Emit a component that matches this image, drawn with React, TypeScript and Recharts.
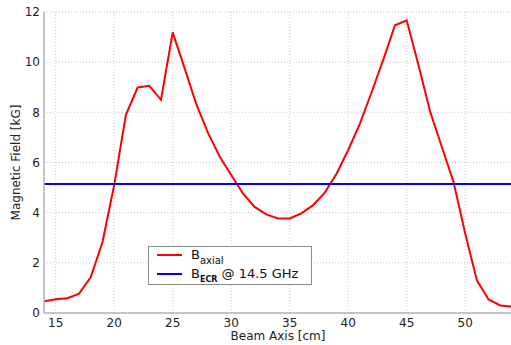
import React from 'react';
import { LineChart, Line, XAxis, YAxis, CartesianGrid, ReferenceLine } from 'recharts';

const POSITIONS = [14, 15, 16, 17, 18, 19, 20, 21, 22, 23, 24, 25, 26, 27, 28, 29, 30, 31, 32, 33, 34, 35, 36, 37, 38, 39, 40, 41, 42, 43, 44, 45, 46, 47, 48, 49, 50, 51, 52, 53, 54];
const B_AXIAL = [0.47, 0.55, 0.59, 0.77, 1.43, 2.83, 5.1, 7.9, 8.99, 9.06, 8.5, 11.19, 9.78, 8.35, 7.2, 6.25, 5.5, 4.77, 4.23, 3.93, 3.77, 3.77, 3.97, 4.3, 4.8, 5.55, 6.5, 7.55, 8.8, 10.1, 11.47, 11.67, 9.9, 8.03, 6.63, 5.23, 3.17, 1.3, 0.54, 0.3, 0.26];
const B_ECR = 5.14;
const X_TICKS = [15, 20, 25, 30, 35, 40, 45, 50];
const Y_TICKS = [0, 2, 4, 6, 8, 10, 12];

const data = POSITIONS.map((x, i) => ({ x, b: B_AXIAL[i] }));

const FONT = 'DejaVu Sans';
const tickStyle = { fill: '#222', fontSize: 12, fontFamily: FONT };
const axisLineStyle = { stroke: '#b4b4b4', strokeWidth: 1.5 };

export default function App() {
  return (
    <div style={{ position: 'absolute', left: 0, top: 0, width: 511, height: 345, overflow: 'hidden', background: '#fff' }}>
      <LineChart width={520} height={345} data={data} margin={{ top: 12, right: 8, bottom: 12, left: 0 }}>
        <CartesianGrid stroke="#c8c8c8" strokeDasharray="1 2" />
        <XAxis
          dataKey="x"
          type="number"
          domain={[14, 54]}
          ticks={X_TICKS}
          height={20}
          tickLine={false}
          tickSize={3}
          tickMargin={2}
          axisLine={axisLineStyle}
          tick={tickStyle}
          allowDataOverflow
          label={{ value: 'Beam Axis [cm]', position: 'bottom', offset: -2, style: { fill: '#222', fontSize: 12, fontFamily: FONT } }}
        />
        <YAxis
          type="number"
          domain={[0, 12]}
          ticks={Y_TICKS}
          width={44}
          tickLine={false}
          tickSize={0}
          tickMargin={4}
          axisLine={axisLineStyle}
          tick={tickStyle}
          allowDataOverflow
          label={{ value: 'Magnetic Field [kG]', angle: -90, position: 'insideLeft', offset: 16, style: { textAnchor: 'middle', fill: '#222', fontSize: 12, fontFamily: FONT } }}
        />
        <Line type="linear" dataKey="b" stroke="#ff0000" strokeWidth={2} dot={false} isAnimationActive={false} />
        <ReferenceLine y={B_ECR} stroke="#0000ff" strokeWidth={2} />
      </LineChart>
      <div style={{ position: 'absolute', left: 148, top: 246, width: 162, height: 37, border: '1px solid #8c8c8c', background: '#fff', fontFamily: FONT, color: '#111' }}>
        <svg style={{ position: 'absolute', left: 0, top: 0 }} width={162} height={37}>
          <line x1={8} x2={33} y1={8} y2={8} stroke="#ff0000" strokeWidth={2} />
          <line x1={8} x2={33} y1={27} y2={27} stroke="#0000ff" strokeWidth={2} />
        </svg>
        <div style={{ position: 'absolute', left: 42, top: 1, fontSize: 13, lineHeight: '13px', whiteSpace: 'nowrap' }}>
          B<span style={{ fontSize: 10, verticalAlign: -5 }}>axial</span>
        </div>
        <div style={{ position: 'absolute', left: 42, top: 20, fontSize: 13, lineHeight: '13px', whiteSpace: 'nowrap' }}>
          B<span style={{ fontSize: 8, fontWeight: 'bold', verticalAlign: -4 }}>ECR</span> @ 14.5 GHz
        </div>
      </div>
    </div>
  );
}
